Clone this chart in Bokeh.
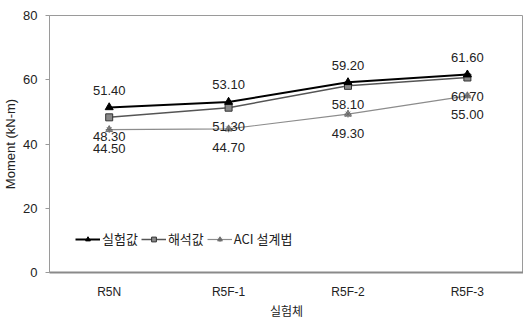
from bokeh.plotting import figure
from bokeh.models import Range1d, FixedTicker, ColumnDataSource, Legend, LegendItem
from bokeh.core.properties import value
from bokeh.embed import file_html
from bokeh.resources import INLINE

categories = ["R5N", "R5F-1", "R5F-2", "R5F-3"]
series_names = ["실험값", "해석값", "ACI 설계법"]
exp_vals = [51.4, 53.1, 59.2, 61.6]
ana_vals = [48.3, 51.3, 58.1, 60.7]
aci_vals = [44.5, 44.7, 49.3, 55.0]
y_ticks = [0, 20, 40, 60, 80]

xs = list(range(len(categories)))

p = figure(width=523, height=321, output_backend="svg", toolbar_location=None,
           x_range=Range1d(-0.5, 3.47), y_range=Range1d(0, 80),
           min_border_left=48, min_border_right=0, min_border_top=15, min_border_bottom=48)
p.background_fill_color = "white"
p.border_fill_color = "white"
p.outline_line_color = "#9a9a9a"
p.outline_line_width = 1
p.xgrid.visible = False
p.ygrid.visible = False

FONT = "Liberation Sans"

p.yaxis.ticker = FixedTicker(ticks=y_ticks)
p.yaxis.axis_label = "Moment (kN-m)"
p.yaxis.axis_label_text_font = FONT
p.yaxis.axis_label_text_font_style = "normal"
p.yaxis.axis_label_text_font_size = "13px"
p.yaxis.axis_label_text_color = "#222222"
p.yaxis.axis_label_standoff = 2
p.yaxis.major_label_text_font = FONT
p.yaxis.major_label_text_font_size = "13px"
p.yaxis.major_label_text_color = "#222222"
p.yaxis.major_label_standoff = 8
p.yaxis.major_tick_out = 4
p.yaxis.major_tick_in = 0
p.yaxis.minor_tick_out = 0
p.yaxis.minor_tick_in = 0
p.yaxis.axis_line_color = "#9a9a9a"
p.yaxis.major_tick_line_color = "#9a9a9a"

p.xaxis.ticker = FixedTicker(ticks=xs)
p.xaxis.major_label_overrides = {i: c for i, c in enumerate(categories)}
p.xaxis.axis_label = "실험체"
p.xaxis.axis_label_text_font = "Noto Sans CJK KR"
p.xaxis.axis_label_text_font_style = "normal"
p.xaxis.axis_label_text_font_size = "12px"
p.xaxis.axis_label_text_color = "#222222"
p.xaxis.axis_label_standoff = 0
p.xaxis.major_label_text_font = FONT
p.xaxis.major_label_text_font_size = "12px"
p.xaxis.major_label_text_color = "#222222"
p.xaxis.major_label_standoff = 12
p.xaxis.major_tick_out = 0
p.xaxis.major_tick_in = 0
p.xaxis.minor_tick_out = 0
p.xaxis.minor_tick_in = 0
p.xaxis.axis_line_color = "#8a8a8a"
p.xaxis.axis_line_width = 2

fmt = lambda v: f"{v:.2f}"

src_exp = ColumnDataSource(dict(x=xs, y=exp_vals, t=[fmt(v) for v in exp_vals]))
src_ana = ColumnDataSource(dict(x=xs, y=ana_vals, t=[fmt(v) for v in ana_vals]))
src_aci = ColumnDataSource(dict(x=xs, y=aci_vals, t=[fmt(v) for v in aci_vals]))

l3 = p.line("x", "y", source=src_aci, line_color="#8c8c8c", line_width=1.2)
m3 = p.scatter("x", "y", source=src_aci, marker="triangle", size=7, fill_color="#9a9a9a",
               line_color="#666666", line_width=0.8)
m3b = p.scatter("x", "y", source=src_aci, marker="asterisk", size=7, line_color="#666666", line_width=0.8)
l2 = p.line("x", "y", source=src_ana, line_color="#555555", line_width=1.5)
m2 = p.scatter("x", "y", source=src_ana, marker="square", size=7, fill_color="#888888",
               line_color="#333333", line_width=1)
l1 = p.line("x", "y", source=src_exp, line_color="#000000", line_width=2)
m1 = p.scatter("x", "y", source=src_exp, marker="triangle", size=8, fill_color="#000000",
               line_color="#000000")

for src, off in ((src_exp, -17), (src_ana, 19), (src_aci, 19)):
    p.text("x", "y", text="t", source=src, text_align="center", text_baseline="middle",
           y_offset=off, text_font=value(FONT), text_font_size="13px", text_color="#222222")

legend = Legend(items=[
    LegendItem(label=series_names[0], renderers=[l1, m1]),
    LegendItem(label=series_names[1], renderers=[l2, m2]),
    LegendItem(label=series_names[2], renderers=[l3, m3, m3b]),
], orientation="horizontal", location=(24, 22))
legend.label_text_font = "Noto Sans CJK KR"
legend.label_text_font_size = "13px"
legend.label_text_color = "#222222"
legend.background_fill_alpha = 0
legend.border_line_alpha = 0
legend.glyph_width = 25
legend.glyph_height = 12
legend.label_standoff = 2
legend.spacing = 3
legend.padding = 2
legend.margin = 0
p.add_layout(legend)

open("out.html", "w").write(file_html(p, INLINE))
